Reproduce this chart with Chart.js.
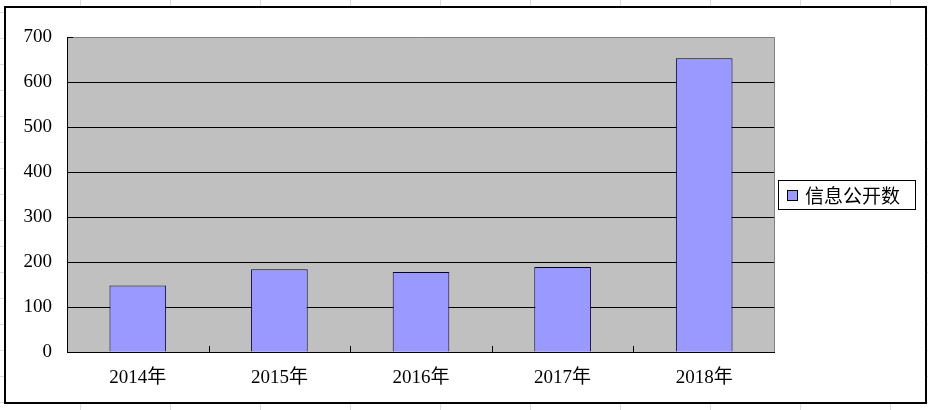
<!DOCTYPE html>
<html>
<head>
<meta charset="utf-8">
<script src="https://cdn.jsdelivr.net/npm/chart.js@4/dist/chart.umd.min.js"></script>
<style>
html, body { margin: 0; padding: 0; }
body {
    width: 928px; height: 410px; overflow: hidden;
    background-color: #fff;
    background-image:
        repeating-linear-gradient(to right, transparent 0, transparent 79px, #dcdcdc 79px, #dcdcdc 80px, transparent 80px, transparent 90px),
        repeating-linear-gradient(to bottom, transparent 0, transparent 12px, #dcdcdc 12px, #dcdcdc 13px, transparent 13px, transparent 26px);
    background-position: 1px 0, 0 0;
}
#wrap { position: relative; width: 928px; height: 410px; }
canvas { display: block; }
</style>
</head>
<body>
<div id="wrap"><canvas id="myChart" width="928" height="410"></canvas></div>
<script>
// data
var years = ['2014年', '2015年', '2016年', '2017年', '2018年'];
var counts = [148, 184, 178, 189, 653];
var seriesName = '信息公开数';
var yTicks = [0, 100, 200, 300, 400, 500, 600, 700];

var serif = '"Liberation Serif", "Noto Sans CJK SC", serif';
var cjk = '"Noto Sans CJK SC", sans-serif';

// frame, gray plot area, little tick marks and the boxed legend
var excelLook = {
    id: 'excelLook',
    beforeDraw: function (chart) {
        var c = chart.ctx, a = chart.chartArea;
        c.save();
        c.fillStyle = '#fff';
        c.fillRect(5, 7, 921, 396);
        c.strokeStyle = '#000';
        c.lineWidth = 2;
        c.strokeRect(5, 7, 921, 396);
        c.fillStyle = '#c0c0c0';
        c.fillRect(a.left, a.top, a.right - a.left, a.bottom - a.top);
        c.restore();
    },
    afterDatasetsDraw: function (chart) {
        var c = chart.ctx, a = chart.chartArea;
        var xs = chart.scales.x, ys = chart.scales.y;
        c.save();
        c.lineWidth = 1;
        // gray border top/right
        c.strokeStyle = '#808080';
        c.beginPath();
        c.moveTo(a.left, a.top + 0.5);
        c.lineTo(a.right - 0.5, a.top + 0.5);
        c.lineTo(a.right - 0.5, a.bottom);
        c.stroke();
        // black axes
        c.strokeStyle = '#000';
        c.beginPath();
        c.moveTo(a.left + 0.5, a.top);
        c.lineTo(a.left + 0.5, a.bottom + 0.5);
        c.lineTo(a.right, a.bottom + 0.5);
        c.stroke();
        // y ticks pointing in
        c.beginPath();
        yTicks.forEach(function (v) {
            var y = Math.round(ys.getPixelForValue(v)) + 0.5;
            c.moveTo(a.left, y);
            c.lineTo(a.left + 6, y);
        });
        // category boundary ticks
        for (var i = 1; i < years.length; i++) {
            var x = Math.round((xs.getPixelForValue(i - 1) + xs.getPixelForValue(i)) / 2) + 0.5;
            c.moveTo(x, a.bottom);
            c.lineTo(x, a.bottom - 6);
        }
        c.stroke();
        // legend
        var lx = 778, ly = 180, lw = 137, lh = 29;
        c.fillStyle = '#fff';
        c.fillRect(lx, ly, lw, lh);
        c.strokeStyle = '#000';
        c.strokeRect(lx + 0.5, ly + 0.5, lw, lh);
        c.fillStyle = '#9999ff';
        c.fillRect(787, 190, 10, 10);
        c.strokeRect(787.5, 190.5, 10, 10);
        c.fillStyle = '#000';
        c.font = '19px ' + cjk;
        c.textBaseline = 'middle';
        c.fillText(chart.data.datasets[0].label, 805, ly + lh / 2 + 1);
        c.restore();
    }
};

var ctx = document.getElementById('myChart').getContext('2d');
var myChart = new Chart(ctx, {
    type: 'bar',
    data: {
        labels: years,
        datasets: [{
            label: seriesName,
            data: counts,
            backgroundColor: '#9999ff',
            borderColor: '#000033',
            borderWidth: 1,
            barPercentage: 0.4,
            categoryPercentage: 1
        }]
    },
    options: {
        responsive: false,
        animation: false,
        devicePixelRatio: 1,
        layout: { padding: { top: 37, right: 153, left: 0, bottom: 0 } },
        plugins: {
            legend: { display: false },
            tooltip: { enabled: false }
        },
        scales: {
            x: {
                grid: { display: false },
                border: { display: false },
                ticks: { color: '#000', font: { family: serif, size: 19 }, padding: 7, maxRotation: 0, autoSkip: false },
                afterFit: function (s) { s.height = 58; }
            },
            y: {
                min: yTicks[0],
                max: yTicks[yTicks.length - 1],
                grid: {
                    drawTicks: false,
                    color: function (c) { return c.tick && c.tick.value === 700 ? 'rgba(0,0,0,0)' : '#000'; },
                    lineWidth: 1
                },
                border: { display: false },
                ticks: { color: '#000', font: { family: serif, size: 19 }, padding: 15, stepSize: 100, autoSkip: false },
                afterFit: function (s) { s.width = 67; }
            }
        }
    },
    plugins: [excelLook]
});
</script>
</body>
</html>
